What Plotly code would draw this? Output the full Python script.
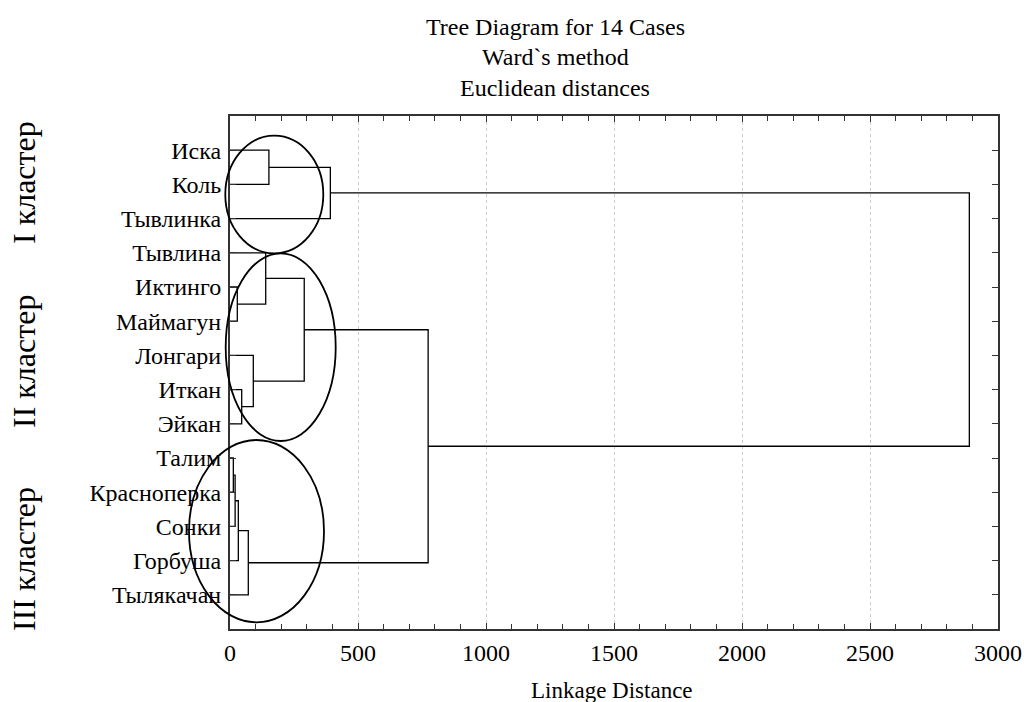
import plotly.graph_objects as go

# ---- data ----
leaves = ["Иска", "Коль", "Тывлинка", "Тывлина", "Иктинго", "Маймагун", "Лонгари",
          "Иткан", "Эйкан", "Талим", "Красноперка", "Сонки", "Горбуша", "Тылякачан"]
# merges: (child_a, child_b, linkage distance); new node ids start at len(leaves)
merge_a = [9, 14, 4, 15, 7, 17, 6, 3, 0, 21, 22, 23, 24]
merge_b = [10, 11, 5, 12, 8, 13, 18, 16, 1, 20, 2, 19, 25]
merge_h = [13, 20, 28.5, 32.5, 45.7, 71.5, 91, 139.5, 152, 290, 392, 774, 2888]

cluster_names = ["I кластер", "II кластер", "III кластер"]
title_lines = ["Tree Diagram for 14 Cases", "Ward`s method", "Euclidean distances"]
x_title = "Linkage Distance"

# ---- build dendrogram path ----
pos = {i: i + 1 for i in range(len(leaves))}
hgt = {i: 0.0 for i in range(len(leaves))}
xs, ys = [], []
node = len(leaves)
for a, b, h in zip(merge_a, merge_b, merge_h):
    xs += [hgt[a], h, h, hgt[b], None]
    ys += [pos[a], pos[a], pos[b], pos[b], None]
    pos[node] = (pos[a] + pos[b]) / 2
    hgt[node] = h
    node += 1

FONT = "Liberation Serif"
L, R, T, B = 230, 26, 116, 73
W, H = 1024, 702
PW, PH = W - L - R, H - T - B

def px(x):
    return (x - L) / PW

def py(y):
    return (T + PH - y) / PH

fig = go.Figure()
fig.add_trace(go.Scatter(x=xs, y=ys, mode="lines",
                         line=dict(color="black", width=1.3),
                         hoverinfo="skip", showlegend=False, cliponaxis=False))

# ellipses (paper coordinates)
ells = [(225.3, 135.7, 323.3, 253.3), (225.7, 253.3, 335.7, 441), (189, 440, 324, 622.3)]
shapes = []
for x0, y0, x1, y1 in ells:
    shapes.append(dict(type="circle", xref="paper", yref="paper",
                       x0=px(x0), x1=px(x1), y0=py(y1), y1=py(y0),
                       line=dict(color="black", width=1.8), layer="above"))

annotations = []
for txt, yc in zip(title_lines, [27, 57, 88]):
    annotations.append(dict(text=txt, xref="paper", yref="paper", x=px(555), y=py(yc),
                            xanchor="center", yanchor="middle", showarrow=False,
                            font=dict(family=FONT, size=24, color="black")))
for txt, yc in zip(cluster_names, [183, 362, 559]):
    annotations.append(dict(text=txt, xref="paper", yref="paper", x=px(24), y=py(yc),
                            xanchor="center", yanchor="middle", showarrow=False,
                            textangle=-90,
                            font=dict(family=FONT, size=32, color="black")))
annotations.append(dict(text=x_title, xref="paper", yref="paper", x=px(612), y=py(690),
                        xanchor="center", yanchor="middle", showarrow=False,
                        font=dict(family=FONT, size=23, color="black")))

fig.update_layout(
    width=W, height=H,
    margin=dict(l=L, r=R, t=T, b=B, autoexpand=False),
    paper_bgcolor="white", plot_bgcolor="white",
    shapes=shapes, annotations=annotations,
    font=dict(family=FONT, color="black"),
    xaxis=dict(range=[0, 3000], dtick=500, tick0=0, automargin=False,
               showgrid=True, gridcolor="#cccccc", griddash="dot", gridwidth=1,
               zeroline=False, showline=True, linecolor="#333333", linewidth=2,
               mirror="ticks", ticks="inside", ticklen=6, tickcolor="#333333",
               minor=dict(dtick=100, ticks="inside", ticklen=5, tickcolor="#333333", showgrid=False),
               tickfont=dict(family=FONT, size=24, color="black"),
               ticklabelstandoff=1),
    yaxis=dict(range=[15, 0], tickvals=list(range(1, len(leaves) + 1)), ticktext=leaves,
               automargin=False,
               showgrid=False, zeroline=False, showline=True, linecolor="#333333", linewidth=2,
               mirror="ticks", ticks="inside", ticklen=6, tickcolor="#333333",
               tickfont=dict(family=FONT, size=24, color="black"),
               ticklabelstandoff=2),
)

fig.write_html("out.html")
